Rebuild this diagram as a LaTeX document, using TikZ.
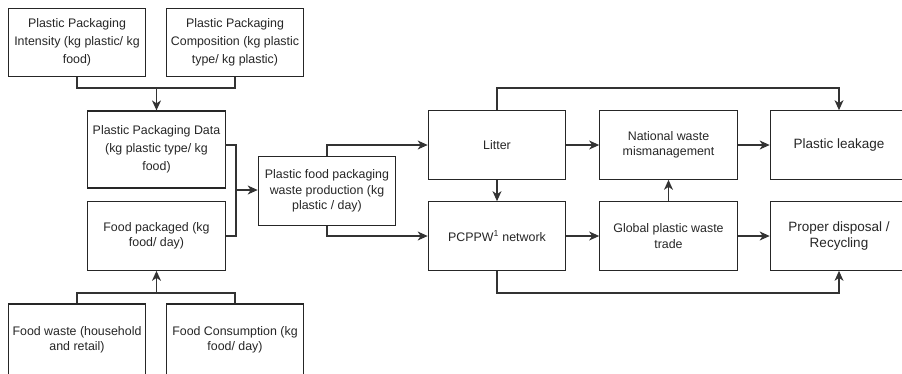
\documentclass[tikz,border=0pt]{standalone}
\usepackage{fontspec}
\setmainfont{Liberation Sans}
\usetikzlibrary{arrows.meta}
\begin{document}
\begin{tikzpicture}[x=1pt,y=-1pt,
  box/.style={draw=black!85,line width=1.2pt,fill=white,minimum width=137.5pt,minimum height=68.5pt,
    align=center,inner sep=0pt,text=black!85,font=\fontsize{12.4pt}{15.5pt}\selectfont},
  tallbox/.style={box,font=\fontsize{12.4pt}{17.8pt}\selectfont},
  bigbox/.style={box,font=\fontsize{13.5pt}{16.5pt}\selectfont},
  con/.style={draw=black!80,line width=1.1pt},
  arr/.style={con,-{Stealth[length=10pt,width=9pt,inset=3pt]}}]
\useasboundingbox (0,0) rectangle (902,373);
\clip (0,0) rectangle (902,373);
\node[tallbox] (b1) at (77,42.5) {Plastic Packaging\\Intensity (kg plastic/ kg\\food)};
\node[tallbox] (b2) at (235,42.5) {Plastic Packaging\\Composition (kg plastic\\type/ kg plastic)};
\node[tallbox,minimum height=77pt] (b3) at (156.5,149.5) {Plastic Packaging Data\\(kg plastic type/ kg\\food)};
\node[box] (b4) at (156.5,236) {Food packaged (kg\\food/ day)};
\node[box,minimum height=72pt] (b5) at (77,340) {Food waste (household\\and retail)};
\node[box,minimum height=72pt] (b6) at (235,340) {Food Consumption (kg\\food/ day)};
\node[box] (b7) at (327,191) {Plastic food packaging\\waste production (kg\\plastic / day)};
\node[box] (lit) at (497,145) {Litter};
\node[box] (net) at (497,236) {PCPPW\textsuperscript{1} network};
\node[box] (nat) at (668.5,145) {National waste\\mismanagement};
\node[box] (glo) at (668.5,236) {Global plastic waste\\trade};
\node[bigbox] (leak) at (839,145) {Plastic leakage};
\node[bigbox] (prop) at (839,236) {Proper disposal /\\Recycling};
% junctions
\coordinate (j1) at (156.5,88);
\coordinate (j2) at (156.5,293);
\coordinate (b3out) at (225,145);
\coordinate (bus) at (236,190);
\coordinate (top) at (497,88);
\coordinate (bot) at (497,293);
\draw[con] (b1.south) |- (j1) -| (b2.south);
\draw[arr] (j1) -- (b3.north);
\draw[con] (b5.north) |- (j2) -| (b6.north);
\draw[arr] (j2) -- (b4.south);
\draw[con] (b3out) -| (bus) |- (b4.east);
\draw[arr] (bus) -- (bus -| b7.west);
\draw[arr] (b7.north) |- (lit.west);
\draw[arr] (b7.south) |- (net.west);
\draw[arr] (lit.south) -- (net.north);
\draw[arr] (lit.east) -- (nat.west);
\draw[arr] (net.east) -- (glo.west);
\draw[arr] (glo.north) -- (nat.south);
\draw[arr] (nat.east) -- (leak.west);
\draw[arr] (glo.east) -- (prop.west);
\draw[arr] (lit.north) |- (top) -| (leak.north);
\draw[arr] (net.south) |- (bot) -| (prop.south);
\end{tikzpicture}
\end{document}
